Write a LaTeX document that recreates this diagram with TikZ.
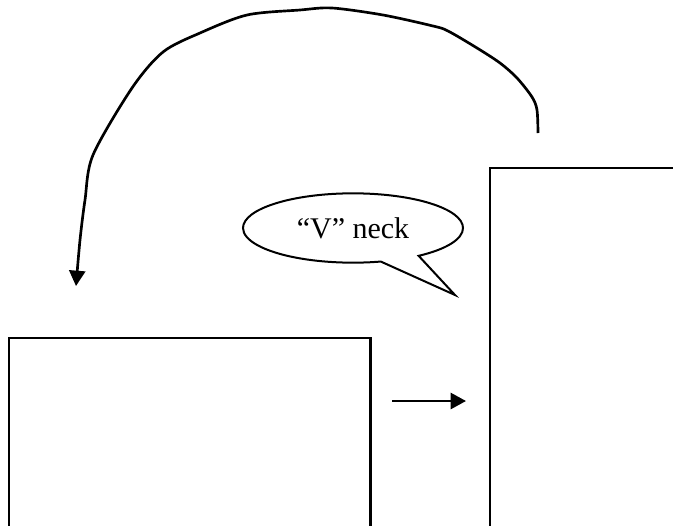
\documentclass[tikz,border=0pt]{standalone}
\usepackage{fontspec}
\setmainfont{Liberation Serif}
\usetikzlibrary{arrows.meta}
\usetikzlibrary{shapes.callouts}
\tikzset{panel/.style={draw, line width=1.7pt, anchor=north west, inner sep=0pt},
 bubble/.style={ellipse callout, draw, line width=1.5pt, inner sep=0pt,
   minimum width=165pt, minimum height=52pt, callout pointer arc=22,
   font=\fontsize{22.5}{27}\selectfont},
 link/.style={line width=2pt, -{Triangle[length=11.5pt, width=12pt]}},
 }

\begin{document}
\begin{tikzpicture}[x=0.75pt, y=-0.75pt]
        \useasboundingbox (0,0) rectangle (673,525);
        \clip (0,0) rectangle (673,525);
        \node[panel, minimum width=271pt, minimum height=300pt] (front) at (8,337) {};
        \node[panel, minimum width=300pt, minimum height=400pt] (side) at (489,167) {};
        \node[bubble, callout absolute pointer={(455,295)}] (vneck) at (353,228) {``V'' neck};
        % arrows
        \coordinate (turnstart) at (538,133);
        \coordinate (turnend) at (76,286);
        \draw[link] plot[smooth, tension=0.5] coordinates {(turnstart) (537,110) (532,97) (517,78)
            (500,63) (477,48) (448,31) (433,26) (383,15) (332,8) (300,10) (247,15) (200,33)
            (163,52) (132,88) (93,155) (85,200) (80,240) (turnend)};
        \coordinate (stepstart) at (392,401);
        \coordinate (stepend) at (466,401);
        \draw[link] (stepstart) -- (stepend);
    \end{tikzpicture}
\end{document}
